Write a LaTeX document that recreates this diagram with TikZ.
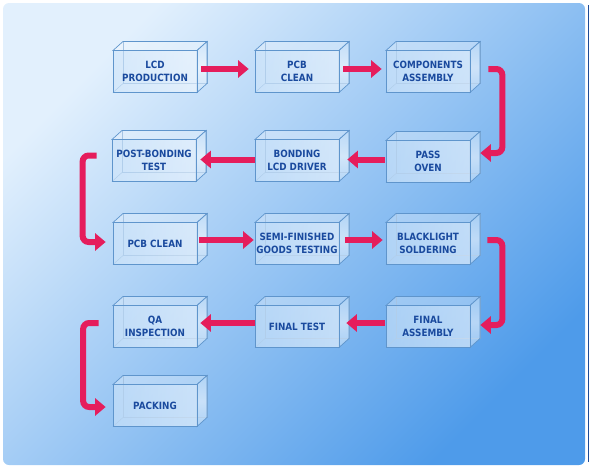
\documentclass[tikz,border=0pt]{standalone}
\usepackage{fontspec}
\newfontfamily\boxfont{DejaVu Sans}[FakeStretch=0.88]
\usetikzlibrary{arrows.meta}
\definecolor{bgtop}{HTML}{E2F0FD}
\definecolor{bgbot}{HTML}{4E9BEA}
\definecolor{frameblue}{HTML}{1E4C98}
\definecolor{boxedge}{HTML}{5F95CC}
\definecolor{boxtext}{HTML}{1A4A9E}
\definecolor{cubeL}{HTML}{CFE5FA}
\definecolor{cubeR}{HTML}{F4F9FE}
\definecolor{flowred}{HTML}{E51D5C}
\tikzset{
  edge/.style={draw=boxedge,line width=.7pt},
  backedge/.style={draw=boxedge!80,line width=.5pt},
  stage/.style={edge,left color=cubeL,right color=cubeR,fill opacity=.6,text opacity=1,
    minimum width=84pt,minimum height=42pt,inner sep=0pt,align=center,
    text=boxtext,font=\boxfont\bfseries\fontsize{10}{13.5}\selectfont},
  flow/.style={draw=flowred,line width=6pt,-{Triangle[width=17pt,length=10.5pt]}},
}
\begin{document}
\begin{tikzpicture}[x=1pt,y=-1pt]
  \useasboundingbox (0,0) rectangle (590,469);
  % panel
  \shade[top color=bgtop,bottom color=bgbot,shading angle=45,rounded corners=6pt]
    (3,3) rectangle (585,465);
  \draw[frameblue,line width=1.3pt] (588.6,5) -- (588.6,462);
  % boxes
  \foreach \n/\x/\y/\t in {
      lcd/155/71.5/{LCD\\PRODUCTION},
      pcb/297/71.5/{PCB\\CLEAN},
      comp/428/71.5/{COMPONENTS\\ASSEMBLY},
      post/154/160.5/{POST-BONDING\\TEST},
      bond/297/160.5/{BONDING\\LCD DRIVER},
      oven/428/161.5/{PASS\\OVEN},
      pcbb/155/243.5/{PCB CLEAN},
      semi/297/243.5/{SEMI-FINISHED\\GOODS TESTING},
      blk/428/243.5/{BLACKLIGHT\\SOLDERING},
      qa/155/326.5/{QA\\INSPECTION},
      ftest/297/326.5/{FINAL TEST},
      fasm/428/326.5/{FINAL\\ASSEMBLY},
      pack/155/405.5/{PACKING}} {
    \draw[backedge] (\x-32,\y-30) rectangle (\x+52,\y+12);
    \draw[backedge] (\x-42,\y+21) -- (\x-32,\y+12);
    \draw[edge,fill=white,fill opacity=.3]
      (\x-42,\y-21) -- (\x-32,\y-30) -- (\x+52,\y-30) -- (\x+42,\y-21) -- cycle;
    \draw[edge,top color=cubeL,bottom color=cubeL,middle color=white,fill opacity=.55]
      (\x+42,\y-21) -- (\x+52,\y-30) -- (\x+52,\y+12) -- (\x+42,\y+21) -- cycle;
    \node[stage] (\n) at (\x,\y) {\t};
  }
  % row 1
  \draw[flow,shorten <=4pt,shorten >=6pt] ([yshift=2.5pt]lcd.east) -- ([yshift=2.5pt]pcb.west);
  \draw[flow,shorten <=4pt,shorten >=4pt] ([yshift=2.5pt]pcb.east) -- ([yshift=2.5pt]comp.west);
  \draw[flow,rounded corners=6pt] ([xshift=18pt,yshift=2.5pt]comp.east) -- ++(14,0)
    |- ([xshift=10pt,yshift=8.5pt]oven.east);
  % row 2
  \draw[flow,shorten <=1pt,shorten >=8pt] ([yshift=2pt]oven.west) -- ([yshift=1pt]bond.east);
  \draw[flow,shorten <=0pt,shorten >=4pt] ([yshift=1pt]bond.west) -- ([yshift=1pt]post.east);
  \draw[flow,rounded corners=6pt] ([xshift=-15pt,yshift=5pt]post.west) -- ++(-14,0)
    |- ([xshift=-7pt,yshift=1.5pt]pcbb.west);
  % row 3
  \draw[flow,shorten <=2pt,shorten >=1pt] ([yshift=3.5pt]pcbb.east) -- ([yshift=3.5pt]semi.west);
  \draw[flow,shorten <=6pt,shorten >=3pt] ([yshift=3.5pt]semi.east) -- ([yshift=3.5pt]blk.west);
  \draw[flow,rounded corners=6pt] ([xshift=17pt,yshift=3.5pt]blk.east) -- ++(15,0)
    |- ([xshift=10pt,yshift=1.5pt]fasm.east);
  % row 4
  \draw[flow,shorten <=1pt,shorten >=7pt] ([yshift=3.5pt]fasm.west) -- ([yshift=3.5pt]ftest.east);
  \draw[flow,shorten <=0pt,shorten >=3pt] ([yshift=3.5pt]ftest.west) -- ([yshift=3.5pt]qa.east);
  \draw[flow,rounded corners=6pt] ([xshift=-14pt,yshift=3.5pt]qa.west) -- ++(-15.5,0)
    |- ([xshift=-7pt,yshift=-1.5pt]pack.west);
\end{tikzpicture}
\end{document}
